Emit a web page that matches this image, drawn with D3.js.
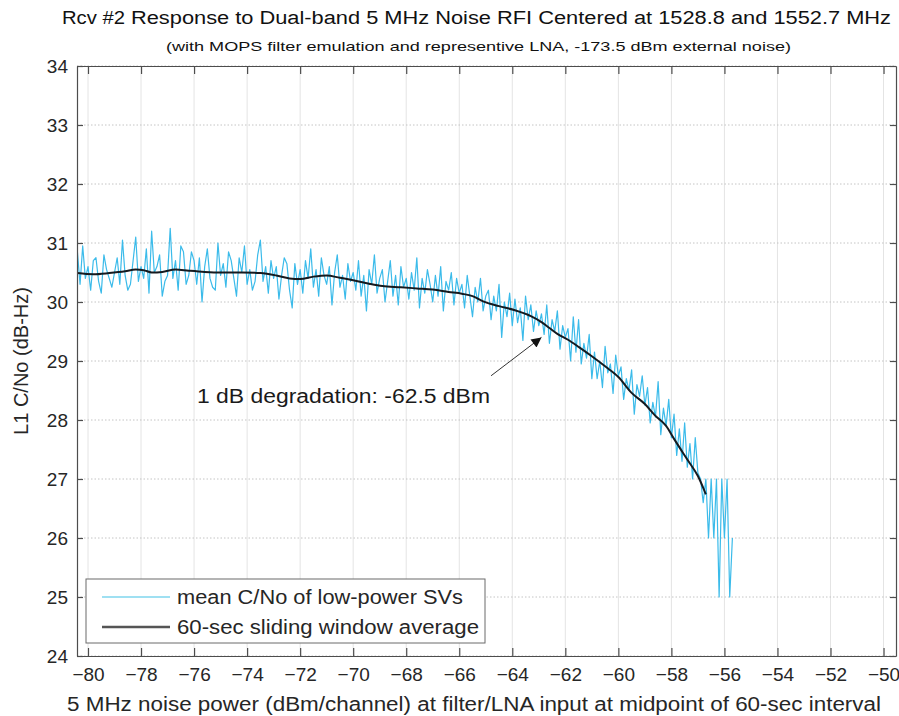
<!DOCTYPE html>
<html><head><meta charset="utf-8">
<script src="https://cdn.jsdelivr.net/npm/d3@7"></script>
<style>
body{margin:0;background:#fff;}
svg{display:block;font-family:"Liberation Sans",Arial,sans-serif;}
</style></head>
<body><svg id="c" width="899" height="716"></svg>
<script>
// ---------- data ----------
const titlePrefix = "Rcv #2";
const titleMain = "Response to Dual-band 5 MHz Noise RFI Centered at 1528.8 and 1552.7 MHz";
const subTitle = "(with MOPS filter emulation and representive LNA, -173.5 dBm external noise)";
const xLabel = "5 MHz noise power (dBm/channel) at filter/LNA input at midpoint of 60-sec interval";
const yLabel = "L1 C/No (dB-Hz)";
const legendLabels = ["mean C/No of low-power SVs", "60-sec sliding window average"];
const annotationText = "1 dB degradation: -62.5 dBm";
const xTickValues = [-80,-78,-76,-74,-72,-70,-68,-66,-64,-62,-60,-58,-56,-54,-52,-50];
const yTickValues = [24,25,26,27,28,29,30,31,32,33,34];

// noisy per-sample mean C/No, sampled every 0.1 dB starting at -80.4 dBm
const noiseStart = -80.4, noiseStep = 0.1;
const noiseY = [
 30.85,30.3,30.95,30.4,30.6,
 30.2,30.7,30.75,30.35,30.15,30.8,30.55,30.4,30.25,30.5,
 30.75,30.3,31.05,30.45,30.2,30.3,30.7,31.1,30.35,30.6,
 30.4,30.9,30.15,31.2,30.5,30.6,30.8,30.1,30.35,30.45,
 31.25,30.4,30.7,30.2,30.95,30.85,30.3,30.45,30.85,30.7,
 30.3,30.75,30.0,30.6,30.9,30.4,30.25,30.2,31.0,30.45,
 30.65,30.25,30.85,30.7,30.4,30.1,30.75,30.5,30.95,30.3,
 30.55,30.2,30.35,30.8,31.05,30.35,30.6,30.15,30.7,30.4,
 30.6,30.05,30.45,30.75,30.65,30.2,29.9,30.65,30.3,30.55,
 30.15,30.7,30.4,30.9,30.25,30.55,30.1,30.75,30.45,30.3,
 30.6,29.95,30.5,30.8,30.25,30.45,30.05,30.65,30.35,30.5,
 30.2,30.7,30.1,30.45,29.85,30.55,30.3,30.8,30.15,30.4,
 30.55,30.0,30.35,30.7,30.1,30.45,29.95,30.6,30.25,30.4,
 30.05,30.5,30.2,30.75,29.9,30.4,30.15,30.55,30.3,30.0,
 30.45,30.1,30.6,29.85,30.35,30.2,30.5,29.95,30.4,30.15,
 30.3,29.9,30.45,30.1,29.75,30.25,30.0,30.4,29.85,30.1,
 30.2,29.7,30.1,29.85,30.3,29.4,30.0,29.75,30.15,29.6,
 30.05,29.65,29.9,29.35,30.1,29.7,29.95,29.5,29.85,29.6,
 29.8,29.45,29.95,29.3,29.7,29.5,29.85,29.2,29.6,29.4,
 29.55,29.0,29.75,29.15,29.7,28.95,29.3,29.05,29.45,28.7,
 29.15,28.7,29.0,28.55,29.25,28.8,28.95,28.45,29.1,28.75,
 28.9,28.35,28.7,28.5,28.85,28.1,28.6,28.4,28.75,28.25,
 28.55,27.95,28.3,28.05,28.65,27.75,28.2,27.9,28.35,27.7,
 28.1,27.4,27.85,27.3,27.95,27.2,27.6,27.0,27.7,27.1,
 27.0,26.6,27.0,26.0,27.0,26.0,27.0,25.0,27.0,26.0,
 27.0,25.0,26.0
];

// 60-sec sliding window average
const avgX = [-80.4,-79.8,-79.2,-78.6,-78.2,-77.9,-77.6,-77.2,-76.7,-76.2,-75.6,-75.0,-74.2,-73.5,-72.9,-72.4,-72.0,-71.5,-71.0,-70.5,-70.0,-69.4,-68.9,-68.2,-67.6,-67.0,-66.4,-65.9,-65.5,-65.1,-64.5,-63.9,-63.3,-62.9,-62.6,-62.3,-61.9,-61.5,-61.0,-60.5,-60.0,-59.5,-59.0,-58.6,-58.2,-57.9,-57.4,-57.0,-56.7];
const avgY = [30.49,30.47,30.49,30.52,30.55,30.54,30.5,30.51,30.55,30.53,30.51,30.5,30.5,30.49,30.45,30.4,30.39,30.43,30.45,30.41,30.37,30.31,30.27,30.25,30.23,30.21,30.17,30.14,30.1,30.01,29.93,29.86,29.76,29.66,29.56,29.46,29.36,29.24,29.08,28.91,28.73,28.46,28.27,28.07,27.9,27.68,27.33,27.05,26.74];

// annotation arrow (data coords): tail and head
const arrowTail = [-64.8, 28.75];
const arrowHead = [-62.9, 29.4];

// ---------- drawing ----------
const svg = d3.select("#c");
const L = 77, R = 896, T = 66, B = 656;
const x = d3.scaleLinear().domain([-80.415, -49.53]).range([L, R]);
const y = d3.scaleLinear().domain([24, 34]).range([B, T]);

// grid
svg.append("g").selectAll("line").data(xTickValues).join("line")
  .attr("x1", d => x(d)).attr("x2", d => x(d)).attr("y1", T).attr("y2", B)
  .attr("stroke", "#e4e4e4").attr("stroke-width", 1);
svg.append("g").selectAll("line").data(yTickValues).join("line")
  .attr("x1", L).attr("x2", R).attr("y1", d => y(d)).attr("y2", d => y(d))
  .attr("stroke", "#c4c4c4").attr("stroke-width", 1).attr("stroke-dasharray", "1.5,2");

// clip
svg.append("clipPath").attr("id", "clip").append("rect")
  .attr("x", L).attr("y", T).attr("width", R - L).attr("height", B - T);

const noise = noiseY.map((v, i) => [noiseStart + i * noiseStep, v]);
const line = d3.line().x(d => x(d[0])).y(d => y(d[1]));
svg.append("path").datum(noise).attr("clip-path", "url(#clip)")
  .attr("d", line).attr("fill", "none").attr("stroke", "#3bbbea").attr("stroke-width", 1.2)
  .attr("stroke-linejoin", "round");

const avg = avgX.map((v, i) => [v, avgY[i]]);
svg.append("path").datum(avg).attr("clip-path", "url(#clip)")
  .attr("d", line.curve(d3.curveMonotoneX)).attr("fill", "none").attr("stroke", "#151a1f").attr("stroke-width", 2);

// axes frame
const axB = d3.axisBottom(x).tickValues(xTickValues).tickSizeInner(-8).tickSizeOuter(0).tickFormat(d3.format("d"));
const axT = d3.axisTop(x).tickValues(xTickValues).tickSizeInner(-8).tickSizeOuter(0).tickFormat("");
const axL = d3.axisLeft(y).tickValues(yTickValues).tickSizeInner(-6).tickSizeOuter(0).tickFormat(d3.format("d"));
const axR = d3.axisRight(y).tickValues(yTickValues).tickSizeInner(-6).tickSizeOuter(0).tickFormat("");
function style(g){ g.selectAll("path,line").attr("stroke","#4d4d4d").attr("stroke-width",1.2);
  g.selectAll("text").attr("fill","#262626").attr("font-size",19).attr("font-family","Liberation Sans, Arial, sans-serif"); }
const gB = svg.append("g").attr("transform", `translate(0,${B})`).call(axB).call(style);
gB.selectAll("text").attr("y", 12).attr("dy", "0.71em");
svg.append("g").attr("transform", `translate(0,${T})`).call(axT).call(style);
const gL = svg.append("g").attr("transform", `translate(${L},0)`).call(axL).call(style);
gL.selectAll("text").attr("x", -9).attr("dy", "0.36em");
svg.append("g").attr("transform", `translate(${R},0)`).call(axR).call(style);

// titles
svg.append("text").attr("x", 62).attr("y", 24).attr("font-size", 19).attr("fill", "#111")
  .attr("textLength", 63).attr("lengthAdjust", "spacingAndGlyphs").text(titlePrefix);
svg.append("text").attr("x", 131).attr("y", 24).attr("font-size", 18).attr("fill", "#111")
  .attr("textLength", 760).attr("lengthAdjust", "spacingAndGlyphs").text(titleMain);
svg.append("text").attr("x", 166).attr("y", 51).attr("font-size", 13).attr("fill", "#111")
  .attr("textLength", 625).attr("lengthAdjust", "spacingAndGlyphs").text(subTitle);

// axis labels
svg.append("text").attr("x", 67).attr("y", 711).attr("font-size", 20).attr("fill", "#262626")
  .attr("textLength", 814).attr("lengthAdjust", "spacingAndGlyphs").text(xLabel);
svg.append("text").attr("transform", `translate(28,${(T + B) / 2}) rotate(-90)`).attr("text-anchor", "middle")
  .attr("font-size", 20).attr("fill", "#262626").text(yLabel);

// annotation
svg.append("text").attr("x", 197).attr("y", 403).attr("font-size", 20).attr("fill", "#1a1a1a")
  .attr("textLength", 293).attr("lengthAdjust", "spacingAndGlyphs").text(annotationText);
svg.append("defs").append("marker").attr("id", "ah").attr("viewBox", "0 0 10 10")
  .attr("refX", 10).attr("refY", 5).attr("markerWidth", 14).attr("markerHeight", 10)
  .attr("markerUnits", "userSpaceOnUse").attr("orient", "auto")
  .append("path").attr("d", "M0,0 L10,5 L0,10 Z").attr("fill", "#111");
svg.append("line").attr("x1", x(arrowTail[0])).attr("y1", y(arrowTail[1]))
  .attr("x2", x(arrowHead[0])).attr("y2", y(arrowHead[1]))
  .attr("stroke", "#333").attr("stroke-width", 1).attr("marker-end", "url(#ah)");

// legend
const lg = svg.append("g");
lg.append("rect").attr("x", 86).attr("y", 579).attr("width", 399).attr("height", 64)
  .attr("fill", "#fff").attr("stroke", "#6b6b6b").attr("stroke-width", 1);
const legColors = ["#7fd6ee", "#555"], legWidths = [1.5, 2.5], legLens = [286, 302];
legendLabels.forEach((t, i) => {
  const yy = 597 + i * 30;
  lg.append("line").attr("x1", 102).attr("x2", 170).attr("y1", yy).attr("y2", yy)
    .attr("stroke", legColors[i]).attr("stroke-width", legWidths[i]);
  lg.append("text").attr("x", 177).attr("y", yy).attr("dy", "0.36em").attr("font-size", 20)
    .attr("fill", "#262626").attr("textLength", legLens[i]).attr("lengthAdjust", "spacingAndGlyphs").text(t);
});
</script></body></html>
